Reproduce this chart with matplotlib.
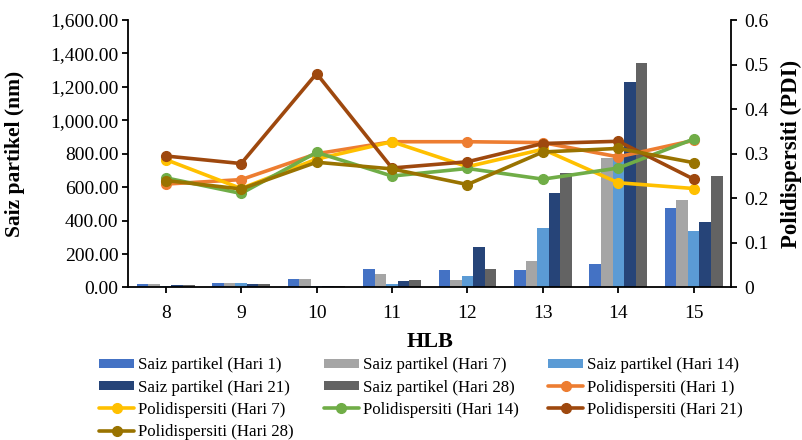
import numpy as np
import matplotlib.pyplot as plt
from matplotlib.ticker import FuncFormatter, MultipleLocator

plt.rcParams['font.family'] = ['Liberation Serif', 'DejaVu Serif']

# HLB categories
hlb = ['8', '9', '10', '11', '12', '13', '14', '15']

# particle size (nm), left axis
saiz_h1 = [22, 25, 52, 111, 105, 102, 140, 473]
saiz_h7 = [20, 25, 52, 78, 42, 156, 772, 522]
saiz_h14 = [8, 25, 8, 21, 68, 353, 800, 339]
saiz_h21 = [15, 20, 8, 36, 245, 566, 1231, 393]
saiz_h28 = [14, 20, 8, 42, 111, 686, 1341, 668]

# polydispersity index, right axis
pdi_h1 = [0.232, 0.242, 0.300, 0.327, 0.327, 0.325, 0.293, 0.330]
pdi_h7 = [0.287, 0.222, 0.288, 0.327, 0.271, 0.310, 0.235, 0.222]
pdi_h14 = [0.246, 0.211, 0.303, 0.250, 0.267, 0.243, 0.268, 0.333]
pdi_h21 = [0.295, 0.278, 0.480, 0.268, 0.282, 0.323, 0.328, 0.243]
pdi_h28 = [0.240, 0.221, 0.281, 0.266, 0.231, 0.304, 0.312, 0.280]

bar_series = [saiz_h1, saiz_h7, saiz_h14, saiz_h21, saiz_h28]
bar_names = ['Saiz partikel (Hari 1)', 'Saiz partikel (Hari 7)', 'Saiz partikel (Hari 14)',
             'Saiz partikel (Hari 21)', 'Saiz partikel (Hari 28)']
bar_colors = ['#4472C4', '#A5A5A5', '#5B9BD5', '#264478', '#636363']

line_series = [pdi_h1, pdi_h7, pdi_h14, pdi_h21, pdi_h28]
line_names = ['Polidispersiti (Hari 1)', 'Polidispersiti (Hari 7)', 'Polidispersiti (Hari 14)',
              'Polidispersiti (Hari 21)', 'Polidispersiti (Hari 28)']
line_colors = ['#ED7D31', '#FFC000', '#70AD47', '#9E480E', '#997300']

fig = plt.figure(figsize=(8.02, 4.40), dpi=100)
ax = fig.add_axes([0.1596, 0.3466, 0.7524, 0.6079])
ax2 = ax.twinx()

x = np.arange(len(hlb))
w = 0.153
handles = {}
for i, (vals, name, c) in enumerate(zip(bar_series, bar_names, bar_colors)):
    handles[name] = ax.bar(x + (i - 2) * w, vals, w, color=c, label=name, zorder=2)

for vals, name, c in zip(line_series, line_names, line_colors):
    handles[name], = ax2.plot(x, vals, color=c, lw=2.6, marker='o', ms=7, label=name,
                              solid_capstyle='round')

ax.set_xlim(-0.5, 7.5)
ax.set_ylim(0, 1600)
ax2.set_ylim(0, 0.6)
ax.yaxis.set_major_locator(MultipleLocator(200))
ax2.yaxis.set_major_locator(MultipleLocator(0.1))
ax.yaxis.set_major_formatter(FuncFormatter(lambda v, p: f'{v:,.2f}'))
ax2.yaxis.set_major_formatter(FuncFormatter(lambda v, p: '0' if v == 0 else f'{v:.1f}'))
ax.set_xticks(x)
ax.set_xticklabels(hlb)

for a in (ax, ax2):
    a.spines['top'].set_visible(False)
    for s in ('left', 'right', 'bottom'):
        a.spines[s].set_linewidth(1.3)
    a.tick_params(direction='out', length=4, width=1.3, labelsize=14, pad=3)
ax.tick_params(axis='x', pad=8.5)
ax2.tick_params(axis='y', pad=5)
ax.spines['right'].set_visible(False)
ax2.spines['left'].set_visible(False)
ax2.spines['bottom'].set_visible(False)

ax.set_xlabel('HLB', fontsize=16, fontweight='bold', labelpad=7.5)
ax.set_ylabel('Saiz partikel (nm)', fontsize=15.5, fontweight='bold')
ax.yaxis.set_label_coords(-0.1715, 0.5)
ax2.set_ylabel('Polidispersiti (PDI)', fontsize=16.5, fontweight='bold')
ax2.yaxis.set_label_coords(1.082, 0.5)

# row-wise order like Excel, arranged for column-major legend filling
order = [bar_names[0], bar_names[3], line_names[1], line_names[4],
         bar_names[1], bar_names[4], line_names[2],
         bar_names[2], line_names[0], line_names[3]]
fig.legend([handles[n] for n in order], order, loc='upper left',
           bbox_to_anchor=(0.124, 0.188), ncol=3, frameon=False, fontsize=12.2,
           handlelength=2.06, handleheight=0.47, handletextpad=0.24,
           columnspacing=1.75, labelspacing=0.37, borderpad=0, borderaxespad=0)

fig.savefig('out.png', dpi=100)
